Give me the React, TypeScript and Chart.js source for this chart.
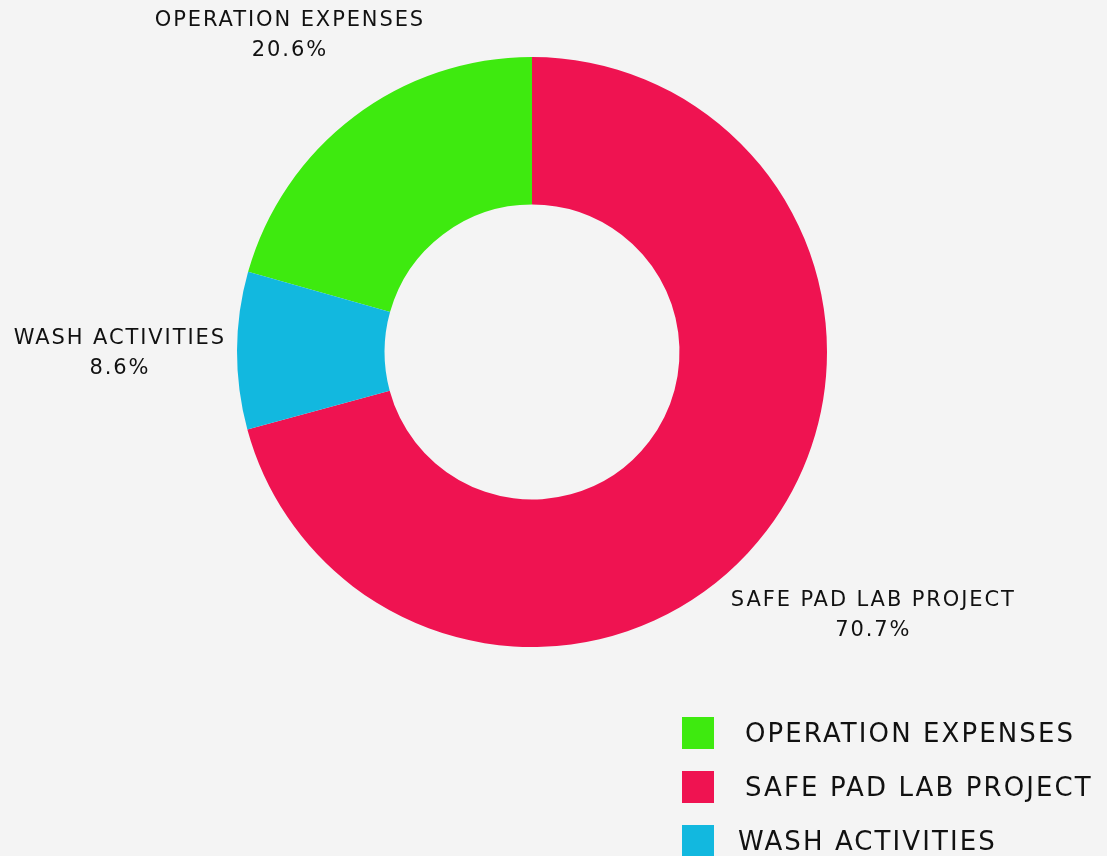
import React, { useEffect, useRef } from "react";
import { Chart, registerables } from "chart.js";

Chart.register(...registerables);

const categories = ["OPERATION EXPENSES", "SAFE PAD LAB PROJECT", "WASH ACTIVITIES"];
const values = [20.6, 70.7, 8.6];
const colors = ["#3eea0f", "#ef1351", "#12b8df"];

const FONT = "'DejaVu Sans', sans-serif";

const labelPlugin = {
  id: "outerLabels",
  afterDatasetsDraw(chart: any) {
    const { ctx } = chart;
    const meta = chart.getDatasetMeta(0);
    ctx.save();
    ctx.font = `21px ${FONT}`;
    try { (ctx as any).letterSpacing = "1.9px"; } catch (e) {}
    ctx.fillStyle = "#111111";
    ctx.textAlign = "center";
    ctx.textBaseline = "middle";
    meta.data.forEach((arc: any, i: number) => {
      const { x, y, startAngle, endAngle, outerRadius } = arc.getProps(
        ["x", "y", "startAngle", "endAngle", "outerRadius"],
        true
      );
      const mid = (startAngle + endAngle) / 2;
      const dx = Math.cos(mid);
      const dy = Math.sin(mid);
      const line1 = categories[i];
      const line2 = values[i].toFixed(1) + "%";
      const w = Math.max(ctx.measureText(line1).width, ctx.measureText(line2).width);
      const h = 34;
      const r = outerRadius + 11 + Math.abs(dx) * w / 2 + Math.abs(dy) * h / 2;
      const cx = x + dx * r;
      const cy = y + dy * r;
      ctx.fillText(line1, cx, cy - 12);
      ctx.fillText(line2, cx, cy + 18);
    });
    ctx.restore();
  },
};

export default function App() {
  const ref = useRef<HTMLCanvasElement | null>(null);
  useEffect(() => {
    if (!ref.current) return;
    const total = values.reduce((a, b) => a + b, 0);
    const chart = new Chart(ref.current, {
      type: "doughnut",
      data: {
        labels: categories,
        datasets: [
          {
            data: values,
            backgroundColor: colors,
            borderWidth: 0,
            hoverOffset: 0,
          },
        ],
      },
      options: {
        responsive: false,
        animation: false,
        cutout: "50%",
        rotation: -(values[0] / total) * 360,
        layout: { padding: { left: 237, right: 280, top: 57, bottom: 209 } },
        plugins: {
          legend: { display: false },
          tooltip: { enabled: false },
        },
      },
      plugins: [labelPlugin],
    });
    return () => chart.destroy();
  }, []);

  return (
    <div
      style={{
        position: "fixed",
        left: 0,
        top: 0,
        width: 1107,
        height: 856,
        background: "#f4f4f4",
        overflow: "hidden",
      }}
    >
      <canvas ref={ref} width={1107} height={856} style={{ position: "absolute", left: 0, top: 0 }} />
      {categories.map((c, i) => (
        <div
          key={c}
          style={{
            position: "absolute",
            left: 682,
            top: 717 + i * 54,
            height: 32,
            display: "flex",
            alignItems: "center",
            whiteSpace: "nowrap",
          }}
        >
          <div style={{ width: 32, height: 32, background: colors[i] }} />
          <span
            style={{
              marginLeft: i === 2 ? 24 : 31,
              fontFamily: FONT,
              fontSize: 26,
              letterSpacing: "2.1px",
              color: "#111111",
            }}
          >
            {c}
          </span>
        </div>
      ))}
    </div>
  );
}
